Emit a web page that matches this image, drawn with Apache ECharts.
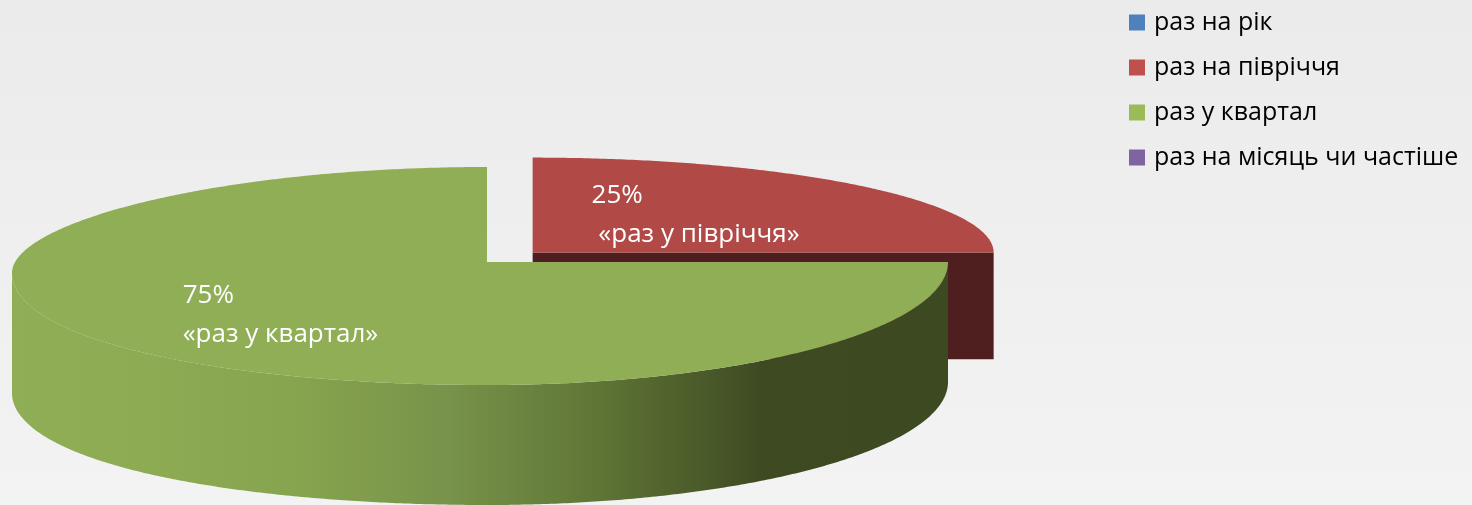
<!DOCTYPE html>
<html><head><meta charset="utf-8">
<script src="https://cdn.jsdelivr.net/npm/echarts@6/dist/echarts.min.js"></script>
<style>html,body{margin:0;padding:0;background:#efefef}#c{width:1472px;height:505px}</style>
</head><body><div id="c"></div>
<script>
// ---- data ----
const categories = ['раз на рік', 'раз на півріччя', 'раз у квартал', 'раз на місяць чи частіше'];
const values = [0, 25, 75, 0];
const labelNames = ['«раз на рік»', ' «раз у півріччя»', '«раз у квартал»', '«раз на місяць чи частіше»'];
const legendColors = ['#4f81bd', '#c0504d', '#9bbb59', '#8064a2'];
const topColors = ['#4a78b0', '#b14a47', '#8fae55', '#77609a'];
const cutColors = ['#1f3450', '#4f1e1f', '#3d4a21', '#332844'];

// ---- geometry / style (not data) ----
const FONT = '"Open Sans", "Liberation Sans", sans-serif';
const FS = 26, LFS = 25;
const CX = 487, CY = 262;          // pie vertex
const RX_R = 461, RX_L = 475;      // horizontal radii (right / left)
const RY_F = 95, RY_N = 123;       // vertical radii (far / near)
const K_L = 11;                    // perspective sag of left half
const DEPTH = 120;
const EXPLODE = {1: 0.14};
const LABEL_R = {1: 0.5, 2: 0.615};

const total = values.reduce((a, b) => a + b, 0);
function rimOffset(deg) {
  const t = deg * Math.PI / 180, s = Math.sin(t), c = Math.cos(t);
  return [(s >= 0 ? RX_R : RX_L) * s, -(c >= 0 ? RY_F : RY_N) * c + (s < 0 ? K_L * s * s : 0)];
}
const measureCtx = document.createElement('canvas').getContext('2d');
measureCtx.font = FS + 'px ' + FONT;

function sideGradient() {
  return new echarts.graphic.LinearGradient(0, 0, 950, 0, [
    {offset: 0.00, color: '#8fae55'},
    {offset: 0.16, color: '#8dab53'},
    {offset: 0.32, color: '#86a34e'},
    {offset: 0.47, color: '#78934a'},
    {offset: 0.63, color: '#5f7536'},
    {offset: 0.74, color: '#4a5a29'},
    {offset: 0.80, color: '#3e4b22'},
    {offset: 1.00, color: '#3d4a21'}
  ], true);
}

function makeRender(i) {
  return function (params, api) {
    if (!(values[i] > 0)) return {type: 'group', children: []};
    let s = 0; for (let k = 0; k < i; k++) s += values[k];
    const a0 = s / total * 360, a1 = (s + values[i]) / total * 360;
    const mid = (a0 + a1) / 2;
    const ex = EXPLODE[i] || 0;
    const mo = rimOffset(mid);
    const vx = CX + mo[0] * ex, vy = CY + mo[1] * ex;
    const depth = DEPTH * (1 - ex * 0.8);
    const rim = d => { const o = rimOffset(d); return [vx + o[0], vy + o[1]]; };
    const children = [];
    // cut faces
    const faces = [[a0, a0 - 90], [a1, a1 + 90]];
    faces.forEach(([a, n]) => {
      if (Math.cos(n * Math.PI / 180) < -1e-6) {
        const p = rim(a);
        children.push({type: 'polygon', shape: {points: [[vx, vy], p, [p[0], p[1] + depth], [vx, vy + depth]]},
          style: {fill: cutColors[i]}});
      }
    });
    // outer side (front half only)
    const lo = Math.max(a0, 90), hi = Math.min(a1, 270);
    if (hi > lo) {
      const top = [], bot = [];
      for (let d = lo; d <= hi + 1e-9; d += 0.5) { const p = rim(Math.min(d, hi)); top.push(p); bot.push([p[0], p[1] + depth]); }
      children.push({type: 'polygon', shape: {points: top.concat(bot.reverse())}, style: {fill: sideGradient()}});
    }
    // top face
    const pts = [[vx, vy]];
    for (let d = a0; d <= a1 + 1e-9; d += 0.5) pts.push(rim(Math.min(d, a1)));
    children.push({type: 'polygon', shape: {points: pts}, style: {fill: topColors[i]}});
    // label
    const pct = Math.round(values[i] / total * 100);
    const txt = pct + '%\n' + labelNames[i];
    const w = Math.max.apply(null, txt.split('\n').map(l => measureCtx.measureText(l).width));
    const lr = LABEL_R[i] || 0.55;
    children.push({type: 'text', x: vx + mo[0] * lr - w / 2, y: vy + mo[1] * lr - 4,
      style: {text: txt, fill: '#ffffff', font: FS + 'px ' + FONT, align: 'left', verticalAlign: 'middle', lineHeight: 39}});
    return {type: 'group', children: children};
  };
}

const zOrder = [1, 1, 3, 1];
const chart = echarts.init(document.getElementById('c'), null, {renderer: 'canvas'});
chart.setOption({
  animation: false,
  backgroundColor: new echarts.graphic.LinearGradient(0, 0, 0, 1, [
    {offset: 0, color: '#ebebeb'}, {offset: 1, color: '#f3f3f3'}
  ]),
  color: legendColors,
  legend: {
    orient: 'vertical', left: 1124, top: 5, icon: 'rect',
    itemWidth: 16, itemHeight: 16, itemGap: 20,
    data: categories,
    textStyle: {fontFamily: FONT, fontSize: LFS, color: '#000', lineHeight: 25, padding: [0, 0, 0, 4]}
  },
  series: categories.map((name, i) => ({
    name: name, type: 'custom', coordinateSystem: 'none', z: zOrder[i],
    silent: true, data: [values[i]], renderItem: makeRender(i)
  }))
});
</script></body></html>
